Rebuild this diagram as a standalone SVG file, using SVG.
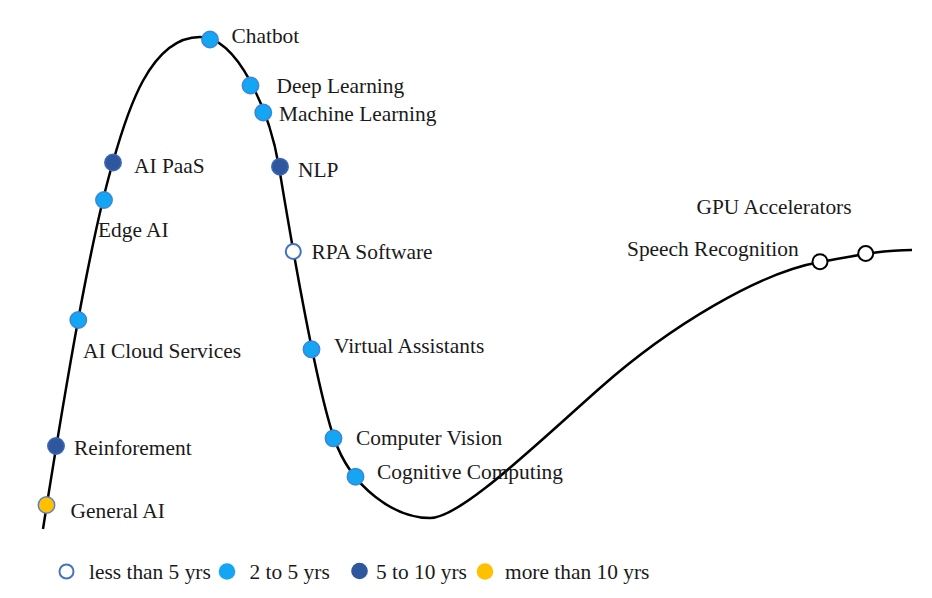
<svg xmlns="http://www.w3.org/2000/svg" width="932" height="598" viewBox="0 0 932 598">
<style>
text{font-family:"Liberation Serif","Times New Roman",serif;font-size:21.4px;fill:#1a1a1a}
.curve{fill:none;stroke:#000;stroke-width:2.5}
.lb{fill:#14A5F3;stroke:#3A86DC;stroke-width:1.5}
.db{fill:#2F579E;stroke:#3D66B8;stroke-width:1.5}
.yl{fill:#FFC000;stroke:#5A80C6;stroke-width:1.5}
.ho{fill:#fff;stroke:#4472C4;stroke-width:2}
.hk{fill:#fff;stroke:#000;stroke-width:2}
</style>
<rect width="932" height="598" fill="#fff"/>
<g id="connectors">
<path class="curve" d="M43,529 C65,390 90,240 113,162 C127,112 150,37 200,37 C238,37 269.8,112 279,167 C289,227 313.6,378 334,438 C351,488 395,518 430,518 C460,518 530,450 600,388 C670,326 760,272.4 820,262 C850,256.8 880,250 912,250"/>
</g>
<g id="general-ai"><circle class="yl" cx="46.5" cy="505" r="8.2"/><text x="70.5" y="518">General AI</text></g>
<g id="reinforement"><circle class="db" cx="56" cy="446" r="8.2"/><text x="74" y="455">Reinforement</text></g>
<g id="ai-cloud-services"><circle class="lb" cx="78.3" cy="320" r="8.2"/><text x="83" y="357.5">AI Cloud Services</text></g>
<g id="edge-ai"><circle class="lb" cx="104" cy="200" r="8.2"/><text x="98" y="236.5">Edge AI</text></g>
<g id="ai-paas"><circle class="db" cx="113" cy="162.5" r="8.2"/><text x="134" y="173">AI PaaS</text></g>
<g id="chatbot"><circle class="lb" cx="210" cy="39.5" r="8.2"/><text x="231.5" y="42.5">Chatbot</text></g>
<g id="deep-learning"><circle class="lb" cx="250.5" cy="85.5" r="8.2"/><text x="276.5" y="93">Deep Learning</text></g>
<g id="machine-learning"><circle class="lb" cx="263.3" cy="112.5" r="8.2"/><text x="279" y="121">Machine Learning</text></g>
<g id="nlp"><circle class="db" cx="280" cy="166.7" r="8.2"/><text x="298" y="177">NLP</text></g>
<g id="rpa-software"><circle class="ho" cx="293.3" cy="251.5" r="7.5"/><text x="311.5" y="259">RPA Software</text></g>
<g id="virtual-assistants"><circle class="lb" cx="311.5" cy="349.3" r="8.2"/><text x="334" y="352.5">Virtual Assistants</text></g>
<g id="computer-vision"><circle class="lb" cx="333.5" cy="438.3" r="8.2"/><text x="356" y="445">Computer Vision</text></g>
<g id="cognitive-computing"><circle class="lb" cx="355.5" cy="476.7" r="8.2"/><text x="377" y="479">Cognitive Computing</text></g>
<g id="speech-recognition"><circle class="hk" cx="820" cy="261.7" r="7.5"/><text x="627" y="256">Speech Recognition</text></g>
<g id="gpu-accelerators"><circle class="hk" cx="865.7" cy="253.5" r="7.5"/><text x="696.5" y="214">GPU Accelerators</text></g>
<g id="legend">
<circle cx="66.5" cy="571.5" r="7" fill="#fff" stroke="#4472C4" stroke-width="2"/>
<text x="89" y="578.5">less than 5 yrs</text>
<circle cx="227" cy="571.5" r="8.3" fill="#14A5F3"/>
<text x="249.5" y="578.5">2 to 5 yrs</text>
<circle cx="359.5" cy="571" r="8.3" fill="#2F579E"/>
<text x="376" y="578.5">5 to 10 yrs</text>
<circle cx="485" cy="571.5" r="8.3" fill="#FFC000"/>
<text x="505" y="578.5">more than 10 yrs</text>
</g>
</svg>
